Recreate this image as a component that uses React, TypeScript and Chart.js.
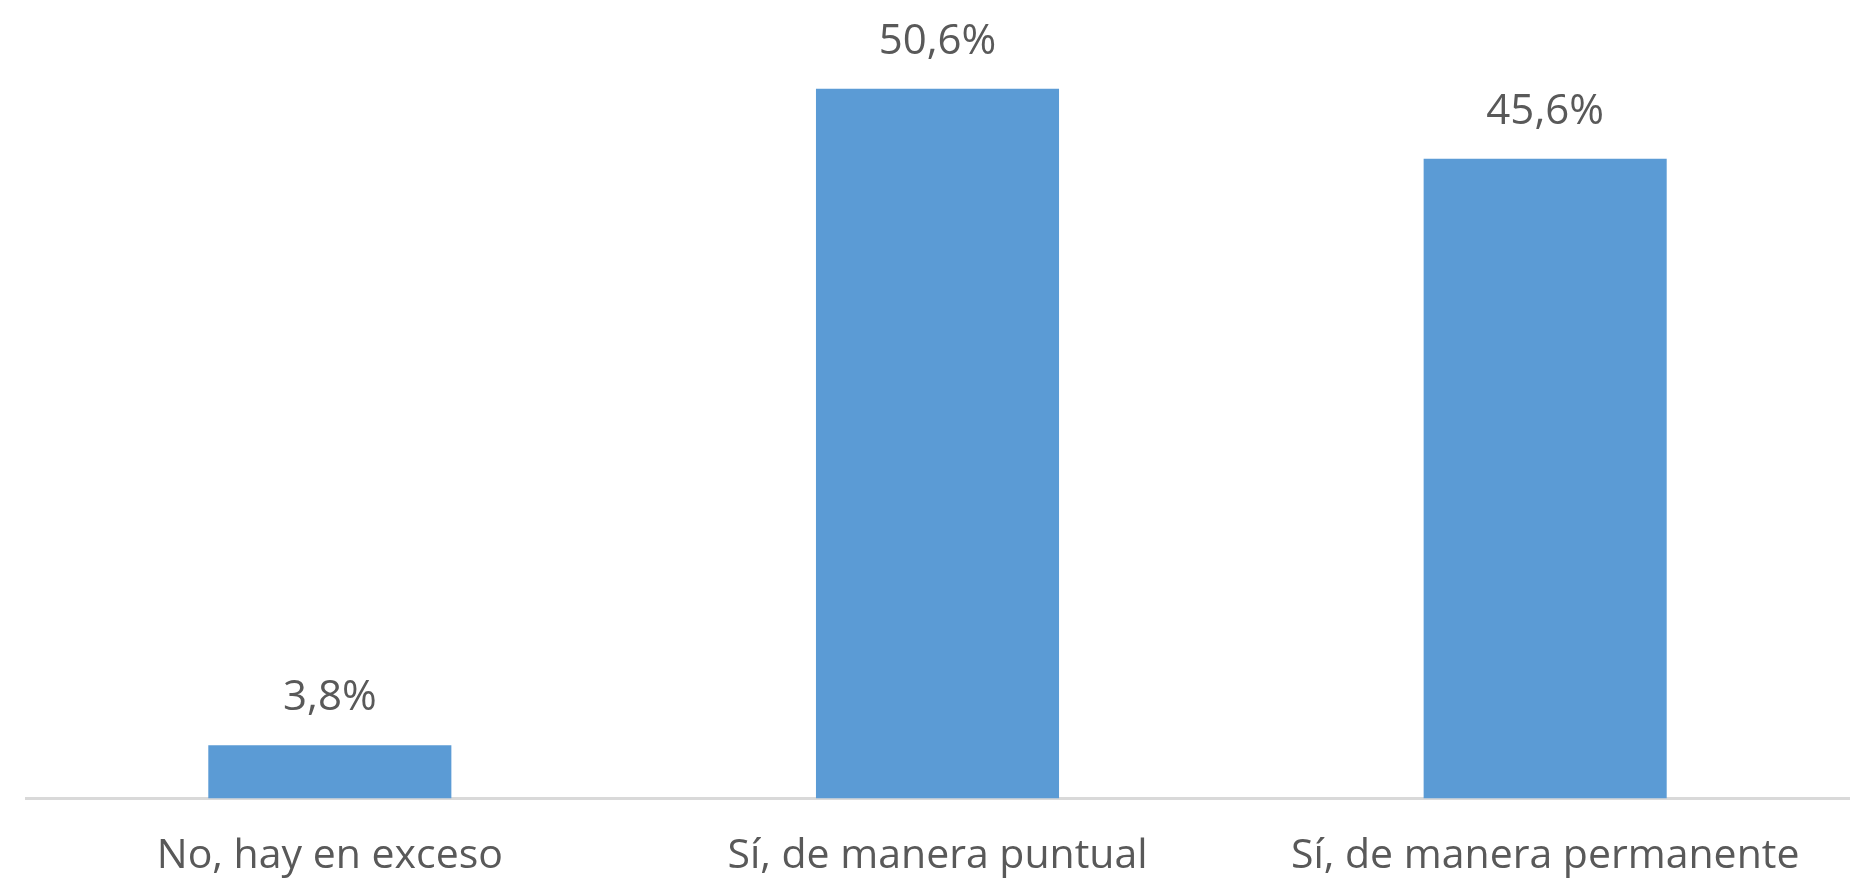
import React, { useEffect, useRef } from "react";
import { Chart, registerables } from "chart.js";

Chart.register(...registerables);

const categories = ["No, hay en exceso", "Sí, de manera puntual", "Sí, de manera permanente"];
const values = [3.8, 50.6, 45.6];
const valueLabels = ["3,8%", "50,6%", "45,6%"];

const FONT = "'Open Sans', sans-serif";

const valueLabelPlugin = {
  id: "valueLabels",
  afterDatasetsDraw(chart: any) {
    const ctx = chart.ctx;
    const meta = chart.getDatasetMeta(0);
    ctx.save();
    ctx.font = `42px ${FONT}`;
    ctx.fillStyle = "#595959";
    ctx.textAlign = "center";
    ctx.textBaseline = "alphabetic";
    meta.data.forEach((bar: any, i: number) => {
      ctx.fillText(valueLabels[i], bar.x, bar.y - 35);
    });
    ctx.restore();
  },
};

export default function App() {
  const ref = useRef<HTMLCanvasElement>(null);
  useEffect(() => {
    if (!ref.current) return;
    const chart = new Chart(ref.current, {
      type: "bar",
      data: {
        labels: categories,
        datasets: [
          {
            data: values,
            backgroundColor: "#5B9BD5",
            borderWidth: 0,
            categoryPercentage: 1,
            barPercentage: 0.4,
          },
        ],
      },
      options: {
        responsive: false,
        animation: false,
        layout: { padding: { top: 27, left: 26, right: 17, bottom: 6 } },
        plugins: { legend: { display: false }, tooltip: { enabled: false } },
        scales: {
          x: {
            grid: { display: false, drawTicks: false },
            border: { display: true, color: "#d9d9d9", width: 3 },
            ticks: { color: "#595959", font: { family: FONT, size: 41 }, padding: 33, maxRotation: 0, autoSkip: false },
            afterFit: (scale: any) => {
              scale.height = 80.5;
            },
          },
          y: {
            display: false,
            min: 0,
            max: 55,
          },
        },
      },
      plugins: [valueLabelPlugin],
    });
    return () => chart.destroy();
  }, []);
  return (
    <div style={{ position: "fixed", left: 0, top: 0, width: 1866, height: 885, background: "#fff" }}>
      <canvas ref={ref} width={1866} height={885} style={{ display: "block" }} />
    </div>
  );
}
